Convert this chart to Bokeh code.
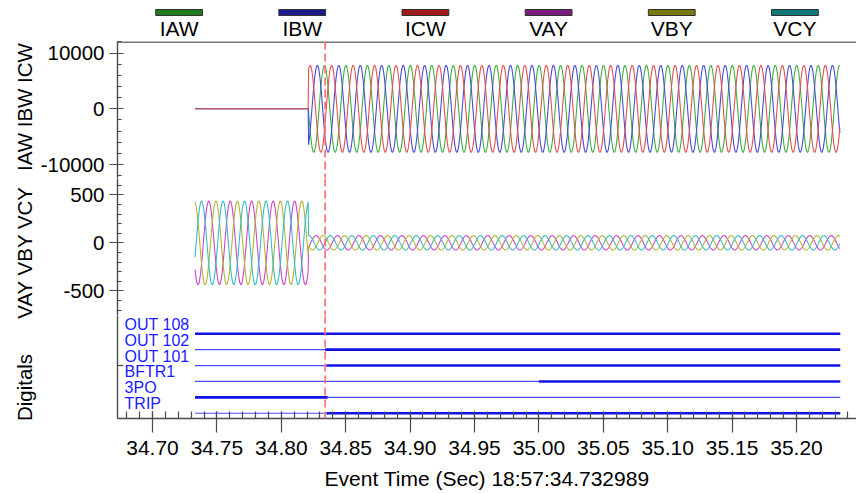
import numpy as np
from math import pi
from bokeh.plotting import figure
from bokeh.models import Range1d, FixedTicker, Span, PrintfTickFormatter
from bokeh.layouts import column, row
from bokeh.embed import file_html
from bokeh.resources import INLINE
from bokeh.core.properties import value

# ---------------- data ----------------
FREQ_HZ = 60.0
T_START = 34.732989      # record start
T_FAULT = 34.821         # currents start / voltages collapse
T_END = 35.234
T_TRIGGER = 34.834       # dashed trigger marker

CURRENT_NAMES = ["IAW", "IBW", "ICW"]
CURRENT_PRE_PEAK = [0, 0, 0]
CURRENT_POST_PEAK = [7800, 7800, 7800]
CURRENT_PHASE_DEG = [180, -60, 60]

VOLTAGE_NAMES = ["VAY", "VBY", "VCY"]
VOLTAGE_PRE_PEAK = [435, 435, 435]
VOLTAGE_POST_PEAK = [75, 75, 75]
VOLTAGE_PHASE_DEG = [220, 100, -20]

DIG_NAMES = ["OUT 108", "OUT 102", "OUT 101", "BFTR1", "3PO", "TRIP"]
DIG_ROW = [5, 4, 3, 2, 1, 0]
DIG_INITIAL = [1, 0, 0, 0, 1, 0]
DIG_CHANGE_T = [None, 34.834, 34.835, 35.000, 34.836, 34.835]

LEGEND_NAMES = ["IAW", "IBW", "ICW", "VAY", "VBY", "VCY"]
LEGEND_FILL = ["#1f7a1f", "#1a1a8c", "#a01a1a", "#7d1a7d", "#7a7a10", "#107a7a"]

X_TICKS = [34.70, 34.75, 34.80, 34.85, 34.90, 34.95, 35.00, 35.05, 35.10, 35.15, 35.20]
CUR_TICKS = [-10000, 0, 10000]
VOLT_TICKS = [-500, 0, 500]

Y_TITLES = ["IAW IBW ICW", "VAY VBY VCY", "Digitals"]
X_TITLE = "Event Time (Sec) 18:57:34.732989"

# ---------------- style / layout ----------------
FONT = "Liberation Sans"
W = 856
H = 493
TITLE_W = 37
LEFT = 117
AXIS_COLOR = "#4a4a4a"
CUR_COLORS = ["#3fae3f", "#4a4ad8", "#e25050"]
VOLT_COLORS = ["#cc44cc", "#b4b432", "#36bcc6"]
DIG_COLOR_THIN = "#4a4aff"
DIG_COLOR_THICK = "#1212e6"
TITLE_X_PX = 24
TITLE_Y_PX = [106.5, 252, 387]

x_range = Range1d(34.6728, 35.2466)
X_MINOR = [round(34.68 + 0.01 * i, 2) for i in range(57)]
Y_CUR = (-12513, 12083)
Y_VOLT = (-757, 670)
Y_DIG = (-0.33, 6.15)
PW = W - TITLE_W


def base_fig(h, y_range, x_axis=None):
    p = figure(width=PW, height=h, x_range=x_range, y_range=y_range,
               output_backend="svg", toolbar_location=None,
               min_border_left=LEFT - TITLE_W, min_border_right=0,
               min_border_top=0, min_border_bottom=0,
               x_axis_location=x_axis)
    p.grid.visible = False
    p.outline_line_color = None
    p.background_fill_color = "white"
    p.border_fill_color = "white"
    return p


def style_yaxis(p, ticks, minor, labels=True):
    ax = p.yaxis[0]
    ax.ticker = FixedTicker(ticks=ticks, minor_ticks=minor)
    if labels:
        ax.major_label_overrides = {t: str(t) for t in ticks}
    else:
        ax.major_label_overrides = {t: "" for t in ticks}
    ax.major_label_text_font = FONT
    ax.major_label_text_font_size = "20.5px"
    ax.major_label_text_color = "black"
    ax.major_label_standoff = 5
    ax.major_tick_in = 6
    ax.major_tick_out = 8 if labels else 0
    ax.minor_tick_in = 4
    ax.minor_tick_out = 0
    for attr in ("axis_line_color", "major_tick_line_color", "minor_tick_line_color"):
        setattr(ax, attr, AXIS_COLOR)
    ax.axis_line_width = 1.4
    ax.major_tick_line_width = 1.2
    ax.minor_tick_line_width = 1.2


def trigger(p):
    p.add_layout(Span(location=T_TRIGGER, dimension="height",
                      line_color="#ff6b6b", line_dash="8 4", line_width=1.6))


# time base
t = np.arange(T_START, T_END, 1.0 / (FREQ_HZ * 48))

# ---------------- y-axis titles (one strip spanning all panels) ----------------
tfig = figure(width=TITLE_W, height=H, x_range=Range1d(0, TITLE_W), y_range=Range1d(H, 0),
              output_backend="svg", toolbar_location=None, min_border=0,
              x_axis_location=None, y_axis_location=None)
tfig.grid.visible = False
tfig.outline_line_color = None
tfig.text(x=[TITLE_X_PX] * 3, y=TITLE_Y_PX, text=Y_TITLES, angle=pi / 2,
          text_align="center", text_baseline="middle", text_font=value(FONT),
          text_font_size=value("20.5px"), text_color="black")

# ---------------- legend ----------------
leg = figure(width=PW, height=41, x_range=Range1d(0, 6), y_range=Range1d(41, 0),
             output_backend="svg", toolbar_location=None,
             min_border_left=LEFT - TITLE_W, min_border_right=0, min_border_top=0,
             min_border_bottom=0, x_axis_location=None, y_axis_location=None)
leg.grid.visible = False
leg.outline_line_color = None
lx = [i + 0.5 for i in range(len(LEGEND_NAMES))]
leg.rect(x=lx, y=[12] * len(lx), width=0.38, height=6,
         fill_color=LEGEND_FILL, line_color="#303030", line_width=1)
leg.text(x=lx, y=[16.5] * len(lx), text=LEGEND_NAMES, text_align="center",
         text_baseline="top", text_font=value(FONT),
         text_font_size=value("21px"), text_color="black")

# ---------------- currents ----------------
cur = base_fig(137, Range1d(*Y_CUR))
for name, pre, post, ph, col in zip(CURRENT_NAMES, CURRENT_PRE_PEAK,
                                     CURRENT_POST_PEAK, CURRENT_PHASE_DEG, CUR_COLORS):
    amp = np.where(t < T_FAULT, pre, post)
    y = amp * np.sin(2 * pi * FREQ_HZ * (t - T_FAULT) + np.deg2rad(ph))
    cur.line(t, y, line_color=col, line_width=1.1)
style_yaxis(cur, CUR_TICKS, list(range(-12000, 12001, 2000)))
# top frame border
cur.add_layout(Span(location=Y_CUR[1] - 100, dimension="width",
                    line_color=AXIS_COLOR, line_width=1.6))
trigger(cur)

# ---------------- voltages ----------------
volt = base_fig(137, Range1d(*Y_VOLT))
for name, pre, post, ph, col in zip(VOLTAGE_NAMES, VOLTAGE_PRE_PEAK,
                                     VOLTAGE_POST_PEAK, VOLTAGE_PHASE_DEG, VOLT_COLORS):
    amp = np.where(t < T_FAULT, pre, post)
    y = amp * np.sin(2 * pi * FREQ_HZ * (t - T_START) + np.deg2rad(ph))
    volt.line(t, y, line_color=col, line_width=1.1)
style_yaxis(volt, VOLT_TICKS, list(range(-700, 601, 100)))
trigger(volt)

# ---------------- digitals ----------------
dig = base_fig(178, Range1d(*Y_DIG), x_axis="below")
dig.min_border_bottom = 75
thin = dict(x0=[], x1=[], y=[])
thick = dict(x0=[], x1=[], y=[])
for r, init, tc in zip(DIG_ROW, DIG_INITIAL, DIG_CHANGE_T):
    if tc is None:
        pieces = [(T_START, T_END, init)]
    else:
        pieces = [(T_START, tc, init), (tc, T_END, 1 - init)]
    for a, b, s in pieces:
        d = thick if s else thin
        d["x0"].append(a)
        d["x1"].append(b)
        d["y"].append(r)
dig.segment(x0=thin["x0"], y0=thin["y"], x1=thin["x1"], y1=thin["y"],
            line_color=DIG_COLOR_THIN, line_width=1.2)
dig.segment(x0=thick["x0"], y0=thick["y"], x1=thick["x1"], y1=thick["y"],
            line_color=DIG_COLOR_THICK, line_width=2.6)
dig.text(x=[x_range.start + 0.0055] * len(DIG_NAMES), y=[r + 0.6 for r in DIG_ROW],
         text=DIG_NAMES, text_align="left", text_baseline="alphabetic",
         text_font=value(FONT), text_font_size=value("16px"), text_color="#1a1aff")
style_yaxis(dig, [3], [], labels=False)
trigger(dig)

xa = dig.xaxis[0]
xa.ticker = FixedTicker(ticks=X_TICKS, minor_ticks=X_MINOR)
xa.formatter = PrintfTickFormatter(format="%.2f")
xa.major_label_text_font = FONT
xa.major_label_text_font_size = "21px"
xa.major_label_text_color = "black"
xa.major_label_standoff = 8
xa.major_tick_in = 7
xa.major_tick_out = 14
xa.minor_tick_in = 7
xa.minor_tick_out = 0
xa.axis_label = X_TITLE
xa.axis_label_text_font = FONT
xa.axis_label_text_font_size = "21px"
xa.axis_label_text_font_style = "normal"
xa.axis_label_text_color = "black"
xa.axis_label_standoff = 9
for attr in ("axis_line_color", "major_tick_line_color", "minor_tick_line_color"):
    setattr(xa, attr, AXIS_COLOR)
xa.axis_line_width = 1.4
xa.major_tick_line_width = 1.2
xa.minor_tick_line_width = 1.2

layout = row(tfig, column(leg, cur, volt, dig, spacing=0), spacing=0)
open("out.html", "w").write(file_html(layout, INLINE))
